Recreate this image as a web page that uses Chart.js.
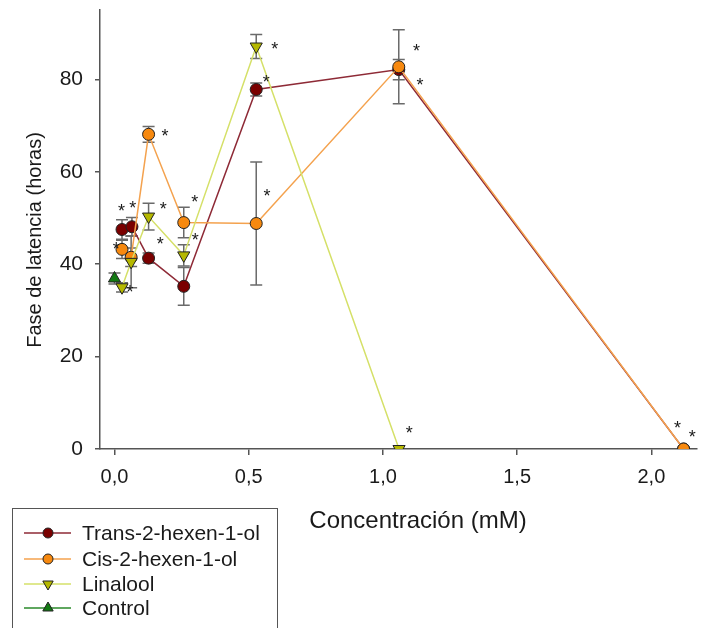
<!DOCTYPE html>
<html>
<head>
<meta charset="utf-8">
<script src="https://cdn.jsdelivr.net/npm/chart.js@4/dist/chart.umd.min.js"></script>
<style>
  html, body { margin: 0; padding: 0; background: #fff; }
  #wrap { width: 705px; height: 628px; }
</style>
</head>
<body>
<div id="wrap"><canvas id="latchart" width="705" height="628"></canvas></div>
<script>
// concentracion (mM), fase de latencia (horas) y error
var transX = [0.028, 0.065, 0.127, 0.258, 0.528, 1.059, 2.12];
var transY = [47.5, 48.1, 41.3, 35.2, 77.8, 82.1, 0];
var transErr = [2.1, 2.0, 1.1, 4.1, 1.4, 2.2, 0];

var cisX = [0.028, 0.062, 0.127, 0.258, 0.528, 1.059, 2.12];
var cisY = [43.2, 41.5, 68.1, 49.0, 48.8, 82.7, 0];
var cisErr = [2.0, 2.0, 1.7, 3.3, 13.3, 8.0, 0];

var linX = [0.028, 0.062, 0.127, 0.258, 0.528, 1.06];
var linY = [35.0, 40.5, 50.3, 41.9, 87.1, 0];
var linErr = [1.0, 5.6, 2.9, 2.3, 2.6, 0];

var ctrlX = [0];
var ctrlY = [36.9];
var ctrlErr = [1.2];

// asteriscos de significancia
var starX = [0.026, 0.068, 0.007, 0.058, 0.182, 0.188, 0.170, 0.299, 0.301, 0.597, 0.565, 0.568, 1.125, 1.138, 1.098, 2.097, 2.152];
var starY = [52.4, 53.0, 44.1, 34.8, 52.8, 68.6, 45.2, 54.3, 46.1, 87.4, 80.3, 55.6, 86.9, 79.6, 4.3, 5.3, 3.4];

var xTicks = [0, 0.5, 1.0, 1.5, 2.0];
var yTicks = [0, 20, 40, 60, 80];

var FONT = 'Arial, "Liberation Sans", sans-serif';
var TXT = '#1a1a1a';
var AXIS = '#555555';

function pts(xs, ys) {
	return xs.map(function (x, i) { return { x: x, y: ys[i] }; });
}

var series = [
	{ label: 'Trans-2-hexen-1-ol', x: transX, y: transY, err: transErr, line: '#8e2a36', fill: '#7a0000', style: 'circle', rot: 0, r: 6, order: 4 },
	{ label: 'Cis-2-hexen-1-ol', x: cisX, y: cisY, err: cisErr, line: '#f4a24e', fill: '#f7890f', style: 'circle', rot: 0, r: 6, order: 3 },
	{ label: 'Linalool', x: linX, y: linY, err: linErr, line: '#d5e068', fill: '#b5b800', style: 'triangle', rot: 180, r: 7, order: 2 },
	{ label: 'Control', x: ctrlX, y: ctrlY, err: ctrlErr, line: '#2a8a2a', fill: '#137a13', style: 'triangle', rot: 0, r: 7, order: 1 }
];

var errorBars = {
	id: 'errorBars',
	beforeDatasetsDraw: function (chart) {
		var ctx = chart.ctx, xs = chart.scales.x, ys = chart.scales.y;
		ctx.save();
		ctx.strokeStyle = '#6a6a6a';
		ctx.lineWidth = 1.5;
		series.forEach(function (s) {
			s.x.forEach(function (xv, i) {
				if (!s.err[i]) return;
				var px = xs.getPixelForValue(xv);
				var top = ys.getPixelForValue(s.y[i] + s.err[i]);
				var bot = ys.getPixelForValue(s.y[i] - s.err[i]);
				ctx.beginPath();
				ctx.moveTo(px, top); ctx.lineTo(px, bot);
				ctx.moveTo(px - 6, top); ctx.lineTo(px + 6, top);
				ctx.moveTo(px - 6, bot); ctx.lineTo(px + 6, bot);
				ctx.stroke();
			});
		});
		ctx.restore();
	}
};

var extras = {
	id: 'extras',
	afterDraw: function (chart) {
		var ctx = chart.ctx, xs = chart.scales.x, ys = chart.scales.y;
		ctx.save();
		// asteriscos
		ctx.fillStyle = TXT;
		ctx.font = '18px ' + FONT;
		ctx.textAlign = 'center';
		ctx.textBaseline = 'middle';
		starX.forEach(function (xv, i) {
			ctx.fillText('*', xs.getPixelForValue(xv), ys.getPixelForValue(starY[i]) + 5);
		});
		// titulos de ejes
		ctx.font = '24px ' + FONT;
		ctx.fillText('Concentración (mM)', 418, 521);
		ctx.save();
		ctx.translate(35, 240);
		ctx.rotate(-Math.PI / 2);
		ctx.font = '20px ' + FONT;
		ctx.fillText('Fase de latencia (horas)', 0, 0);
		ctx.restore();
		// leyenda
		ctx.strokeStyle = AXIS;
		ctx.lineWidth = 1;
		ctx.strokeRect(12.5, 508.5, 265, 140);
		var rows = [533, 559, 584, 608];
		ctx.font = '21px ' + FONT;
		ctx.textAlign = 'left';
		series.forEach(function (s, i) {
			var y = rows[i];
			ctx.strokeStyle = s.line;
			ctx.lineWidth = 1.5;
			ctx.beginPath();
			ctx.moveTo(24, y); ctx.lineTo(71, y);
			ctx.stroke();
			ctx.fillStyle = s.fill;
			ctx.strokeStyle = '#222';
			ctx.lineWidth = 1;
			Chart.helpers.drawPoint(ctx, { pointStyle: s.style, rotation: s.rot, radius: s.r - 1, borderWidth: 1 }, 48, y);
			ctx.fillStyle = TXT;
			ctx.fillText(s.label, 82, y + 1);
		});
		ctx.restore();
	}
};

var config = {
	type: 'scatter',
	data: {
		datasets: series.map(function (s) {
			return {
				label: s.label,
				data: pts(s.x, s.y),
				showLine: true,
				borderColor: s.line,
				borderWidth: 1.5,
				pointStyle: s.style,
				pointRotation: s.rot,
				pointRadius: s.r,
				pointBackgroundColor: s.fill,
				pointBorderColor: '#222',
				pointBorderWidth: 1,
				order: s.order
			};
		})
	},
	options: {
		responsive: false,
		animation: false,
		layout: { padding: { top: 10, right: 0, left: 0, bottom: 0 } },
		plugins: {
			legend: { display: false },
			tooltip: { enabled: false }
		},
		scales: {
			x: {
				type: 'linear',
				min: -0.054,
				max: 2.17,
				afterBuildTicks: function (s) { s.ticks = xTicks.map(function (v) { return { value: v }; }); },
				afterFit: function (s) { s.height = 179; s.paddingLeft = 0; s.paddingRight = 0; },
				ticks: {
					callback: function (v) { return v.toFixed(1).replace('.', ','); },
					font: { family: FONT, size: 20 },
					color: TXT,
					padding: 10,
					maxRotation: 0
				},
				grid: { display: true, drawOnChartArea: false, drawTicks: true, tickLength: 6, color: AXIS, lineWidth: 1.5 },
				border: { display: true, color: AXIS, width: 1.5 }
			},
			y: {
				min: 0,
				max: 95,
				afterBuildTicks: function (s) { s.ticks = yTicks.map(function (v) { return { value: v }; }); },
				afterFit: function (s) { s.width = 100; s.paddingTop = 0; s.paddingBottom = 0; },
				ticks: {
					font: { family: FONT, size: 21 },
					color: TXT,
					padding: 12
				},
				grid: { display: true, drawOnChartArea: false, drawTicks: true, tickLength: 5, color: AXIS, lineWidth: 1.5 },
				border: { display: true, color: AXIS, width: 1.5 }
			}
		}
	},
	plugins: [errorBars, extras]
};

var ctx = document.getElementById('latchart').getContext('2d');
var latChart = new Chart(ctx, config);
</script>
</body>
</html>
